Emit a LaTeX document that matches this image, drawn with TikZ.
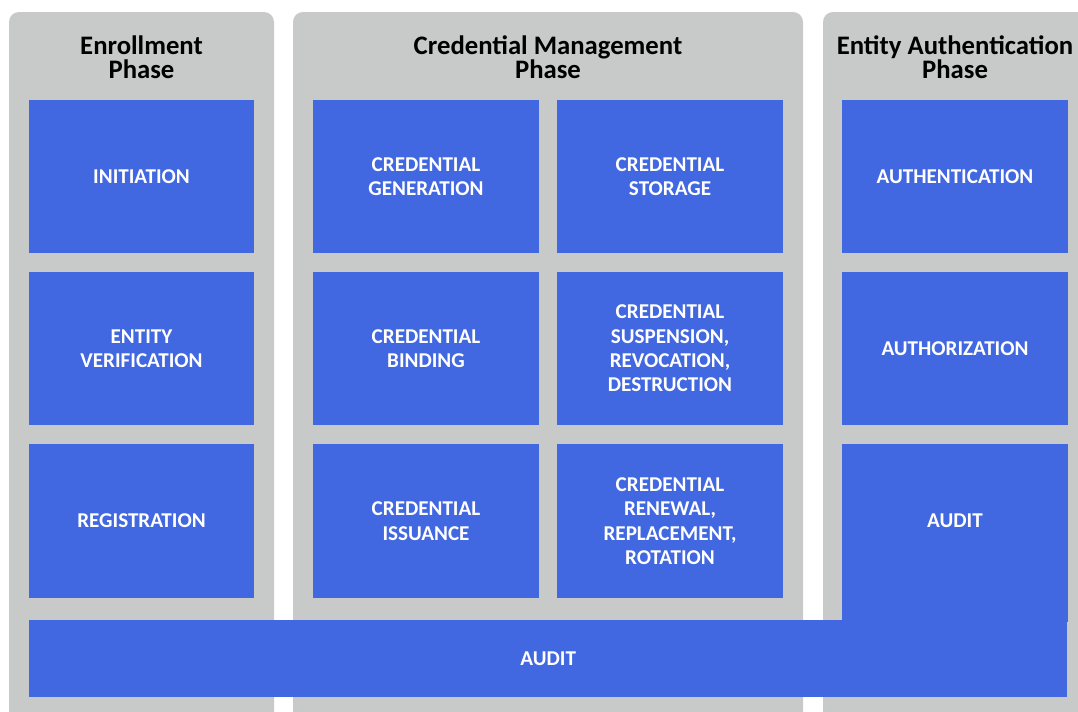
\documentclass[tikz,border=0pt]{standalone}
\usepackage{fontspec}
\setmainfont{Carlito}
\usepackage{xcolor}
\definecolor{phasegray}{RGB}{200,201,201}
\definecolor{stepblue}{RGB}{65,104,224}

\begin{document}
\begin{tikzpicture}[
    x=0.025cm, y=-0.025cm,
    phasebox/.style={fill=phasegray, rounded corners=0.25cm},
    phasetitle/.style={align=center, font=\fontsize{19}{17.2}\selectfont\bfseries},
    stepbox/.style={fill=stepblue, text=white, inner sep=0pt, align=center,
                    minimum width=5.625cm, minimum height=3.825cm,
                    font=\fontsize{15}{17.3}\selectfont\bfseries}
]
\useasboundingbox (0,0) rectangle (1078,711);
% phases
\fill[phasebox] (9,12) rectangle (274,740);
\fill[phasebox] (293,12) rectangle (803,740);
\fill[phasebox] (823,12) rectangle (1110,740);
\node[phasetitle] (enroll) at (141.5,57.5) {Enrollment\\Phase};
\node[phasetitle] (credman) at (548,57.5) {Credential Management\\Phase};
\node[phasetitle] (entauth) at (955,57.5) {Entity Authentication\\Phase};

% enrollment
\node[stepbox] (init) at (141.5,176.5) {INITIATION};
\node[stepbox] (verif) at (141.5,348.5) {ENTITY\\VERIFICATION};
\node[stepbox] (regis) at (141.5,521) {REGISTRATION};

% credential management
\node[stepbox] (gen) at (426,176.5) {CREDENTIAL\\GENERATION};
\node[stepbox] (stor) at (670,176.5) {CREDENTIAL\\STORAGE};
\node[stepbox] (bind) at (426,348.5) {CREDENTIAL\\BINDING};
\node[stepbox] (susp) at (670,348.5) {CREDENTIAL\\SUSPENSION,\\REVOCATION,\\DESTRUCTION};
\node[stepbox] (issu) at (426,521) {CREDENTIAL\\ISSUANCE};
\node[stepbox] (renew) at (670,521) {CREDENTIAL\\RENEWAL,\\REPLACEMENT,\\ROTATION};

% entity authentication
\node[stepbox] (authn) at (955,176.5) {AUTHENTICATION};
\node[stepbox] (authz) at (955,348.5) {AUTHORIZATION};
\node[stepbox] (audit) at (955,521) {AUDIT};
\node[stepbox, minimum width=25.95cm, minimum height=1.925cm] (auditall) at (548.25,658.5) {AUDIT};
\fill[stepblue] ([yshift=0.05cm]audit.south west) rectangle ([yshift=-0.05cm]audit.east|-auditall.north);
\end{tikzpicture}
\end{document}
